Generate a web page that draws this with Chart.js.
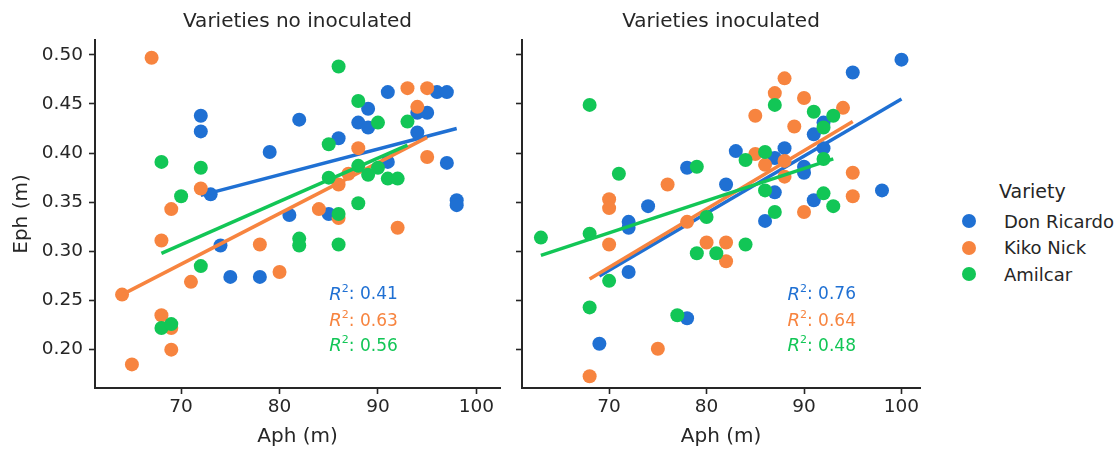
<!DOCTYPE html>
<html>
<head>
<meta charset="utf-8">
<script src="https://cdn.jsdelivr.net/npm/chart.js@4.4.1/dist/chart.umd.min.js"></script>
<style>
    body { margin: 0; background: #fff; width: 1120px; height: 450px; overflow: hidden; font-family: "DejaVu Sans", sans-serif; color: #262626; }
    canvas { position: absolute; top: 0; }
    #leftChart { left: 0; }
    #rightChart { left: 510px; }
    #legend { position: absolute; left: 962px; top: 177px; }
    #legend .title { font-size: 19px; margin-left: 37px; height: 31px; line-height: 29px; }
    #legend .row { height: 26.5px; display: flex; align-items: center; font-size: 18px; }
    #legend .dot { width: 14px; height: 14px; border-radius: 50%; margin-right: 28px; }
</style>
</head>
<body>
<canvas id="leftChart" width="510" height="450"></canvas>
<canvas id="rightChart" width="420" height="450"></canvas>
<div id="legend"></div>
<script>
// categories / panels
const varieties = ['Don Ricardo', 'Kiko Nick', 'Amilcar'];
const colors = ['#1f70d3', '#f7843f', '#12c656'];
const panelTitles = ['Varieties no inoculated', 'Varieties inoculated'];
const xTicks = [70, 80, 90, 100];
const yTicks = [0.20, 0.25, 0.30, 0.35, 0.40, 0.45, 0.50];

// no inoculated
const noInocDonRicardoAph = [72, 72, 73, 74, 75, 78, 79, 81, 82, 85, 86, 88, 89, 89, 91, 91, 94, 94, 95, 96, 97, 97, 98, 98];
const noInocDonRicardoEph = [0.438, 0.422, 0.358, 0.306, 0.274, 0.274, 0.401, 0.337, 0.434, 0.338, 0.415, 0.431, 0.445, 0.426, 0.462, 0.391, 0.441, 0.421, 0.441, 0.462, 0.462, 0.390, 0.352, 0.347];
const noInocKikoNickAph = [64, 65, 67, 68, 68, 69, 69, 69, 71, 72, 78, 80, 84, 86, 86, 87, 88, 92, 93, 94, 95, 95];
const noInocKikoNickEph = [0.256, 0.185, 0.497, 0.311, 0.235, 0.343, 0.222, 0.200, 0.269, 0.364, 0.307, 0.279, 0.343, 0.368, 0.334, 0.379, 0.405, 0.324, 0.466, 0.447, 0.466, 0.396];
const noInocAmilcarAph = [68, 68, 69, 70, 72, 72, 82, 82, 85, 85, 86, 86, 86, 88, 88, 88, 89, 90, 90, 91, 92, 93];
const noInocAmilcarEph = [0.391, 0.222, 0.226, 0.356, 0.385, 0.285, 0.313, 0.306, 0.409, 0.375, 0.488, 0.338, 0.307, 0.453, 0.387, 0.349, 0.378, 0.431, 0.385, 0.374, 0.374, 0.432];

// inoculated
const inocDonRicardoAph = [69, 72, 72, 72, 74, 78, 78, 82, 83, 86, 87, 87, 88, 90, 90, 91, 91, 92, 92, 95, 98, 100];
const inocDonRicardoEph = [0.206, 0.330, 0.324, 0.279, 0.346, 0.385, 0.232, 0.368, 0.402, 0.331, 0.395, 0.360, 0.405, 0.386, 0.380, 0.419, 0.352, 0.431, 0.405, 0.482, 0.362, 0.495];
const inocKikoNickAph = [68, 70, 70, 70, 75, 76, 78, 80, 82, 82, 85, 85, 86, 87, 88, 88, 88, 89, 90, 90, 94, 95, 95];
const inocKikoNickEph = [0.173, 0.353, 0.344, 0.307, 0.201, 0.368, 0.330, 0.309, 0.309, 0.290, 0.438, 0.399, 0.388, 0.461, 0.476, 0.392, 0.376, 0.427, 0.456, 0.340, 0.446, 0.380, 0.356];
const inocAmilcarAph = [63, 68, 68, 68, 70, 71, 77, 79, 79, 80, 81, 84, 84, 86, 86, 87, 87, 91, 92, 92, 92, 93, 93];
const inocAmilcarEph = [0.314, 0.449, 0.318, 0.243, 0.270, 0.379, 0.235, 0.386, 0.298, 0.335, 0.298, 0.393, 0.307, 0.401, 0.362, 0.449, 0.340, 0.442, 0.426, 0.394, 0.359, 0.438, 0.346];

// fitted regression lines (start and end), one per variety
const noInocFitAph = [[72, 98], [64, 95], [68, 93]];
const noInocFitEph = [[0.357, 0.425], [0.256, 0.416], [0.298, 0.408]];
const inocFitAph = [[69, 100], [68, 95], [63, 93]];
const inocFitEph = [[0.275, 0.455], [0.272, 0.432], [0.296, 0.394]];

const noInocR2 = [0.41, 0.63, 0.56];
const inocR2 = [0.76, 0.64, 0.48];

const textColor = '#262626';

function toPoints(xs, ys) {
    return xs.map((x, i) => ({x: x, y: ys[i]}));
}

// panel title, centred over the plot area (not the canvas)
const panelTitlePlugin = {
    id: 'panelTitle',
    afterDraw(chart, args, opts) {
        const ctx = chart.ctx;
        const area = chart.chartArea;
        ctx.save();
        ctx.fillStyle = textColor;
        ctx.font = '20px "DejaVu Sans"';
        ctx.textAlign = 'center';
        ctx.textBaseline = 'middle';
        ctx.fillText(opts.text, (area.left + area.right) / 2, 22);
        ctx.restore();
    }
};

// draws the R² lines inside the plot
const r2Plugin = {
    id: 'r2',
    afterDatasetsDraw(chart, args, opts) {
        const ctx = chart.ctx;
        const xs = chart.scales.x;
        const ys = chart.scales.y;
        ctx.save();
        ctx.textBaseline = 'middle';
        ctx.textAlign = 'left';
        opts.values.forEach((v, i) => {
            let px = xs.getPixelForValue(opts.x);
            const py = ys.getPixelForValue(opts.y[i]);
            ctx.fillStyle = colors[i];
            ctx.font = 'italic 18px "DejaVu Sans"';
            ctx.fillText('R', px, py);
            px += ctx.measureText('R').width;
            ctx.font = '11px "DejaVu Sans"';
            ctx.fillText('2', px, py - 6);
            px += ctx.measureText('2').width;
            ctx.font = '17px "DejaVu Sans"';
            ctx.fillText(': ' + v.toFixed(2), px, py);
        });
        ctx.restore();
    }
};

function makeChart(id, title, aph, eph, fitAph, fitEph, r2, showY, xRange, yAxisWidth, r2x) {
    const datasets = [];
    varieties.forEach((name, i) => {
        datasets.push({
            type: 'scatter',
            label: name,
            data: toPoints(aph[i], eph[i]),
            backgroundColor: colors[i],
            borderWidth: 0,
            pointRadius: 7,
            pointHoverRadius: 7,
            order: 10 - i * 2
        });
        datasets.push({
            type: 'line',
            label: name + ' fit',
            data: toPoints(fitAph[i], fitEph[i]),
            borderColor: colors[i],
            borderWidth: 3.5,
            pointRadius: 0,
            fill: false,
            order: 9 - i * 2
        });
    });

    return new Chart(document.getElementById(id), {
        data: {datasets: datasets},
        plugins: [r2Plugin, panelTitlePlugin],
        options: {
            responsive: false,
            animation: false,
            layout: {padding: {left: 0, right: 10, top: 40, bottom: 0}},
            plugins: {
                legend: {display: false},
                tooltip: {enabled: false},
                title: {display: false},
                panelTitle: {text: title},
                r2: {values: r2, x: r2x, y: [0.2556, 0.229, 0.2033]}
            },
            scales: {
                x: {
                    type: 'linear',
                    min: xRange[0],
                    max: xRange[1],
                    afterBuildTicks: scale => { scale.ticks = xTicks.map(v => ({value: v})); },
                    afterFit: scale => { scale.height = 62; },
                    grid: {display: true, drawOnChartArea: false, drawTicks: true, tickLength: 6, tickColor: textColor, tickWidth: 1.6},
                    border: {display: true, color: textColor, width: 2},
                    ticks: {color: textColor, font: {family: 'DejaVu Sans', size: 18.5}, padding: 2, maxRotation: 0},
                    title: {display: true, text: 'Aph (m)', color: textColor, font: {family: 'DejaVu Sans', size: 20}, padding: {top: 0, bottom: 1}}
                },
                y: {
                    type: 'linear',
                    min: 0.161,
                    max: 0.515,
                    afterBuildTicks: scale => { scale.ticks = yTicks.map(v => ({value: v})); },
                    afterFit: scale => { scale.width = yAxisWidth; },
                    grid: {display: true, drawOnChartArea: false, drawTicks: true, tickLength: 6, tickColor: textColor, tickWidth: 1.6},
                    border: {display: true, color: textColor, width: 2},
                    ticks: {
                        color: textColor,
                        font: {family: 'DejaVu Sans', size: 18.5},
                        padding: 6,
                        callback: v => showY ? v.toFixed(2) : ''
                    },
                    title: {display: showY, text: 'Eph (m)', color: textColor, font: {family: 'DejaVu Sans', size: 20}, padding: {top: 10, bottom: 0}}
                }
            }
        }
    });
}

makeChart('leftChart', panelTitles[0],
    [noInocDonRicardoAph, noInocKikoNickAph, noInocAmilcarAph],
    [noInocDonRicardoEph, noInocKikoNickEph, noInocAmilcarEph],
    noInocFitAph, noInocFitEph, noInocR2, true, [61.25, 102.4], 95, 85.06);

makeChart('rightChart', panelTitles[1],
    [inocDonRicardoAph, inocKikoNickAph, inocAmilcarAph],
    [inocDonRicardoEph, inocKikoNickEph, inocAmilcarEph],
    inocFitAph, inocFitEph, inocR2, false, [61.06, 101.9], 12, 88.3);

// legend
const legend = document.getElementById('legend');
let html = '<div class="title">Variety</div>';
varieties.forEach((name, i) => {
    html += '<div class="row"><span class="dot" style="background:' + colors[i] + '"></span>' + name + '</div>';
});
legend.innerHTML = html;
</script>
</body>
</html>
